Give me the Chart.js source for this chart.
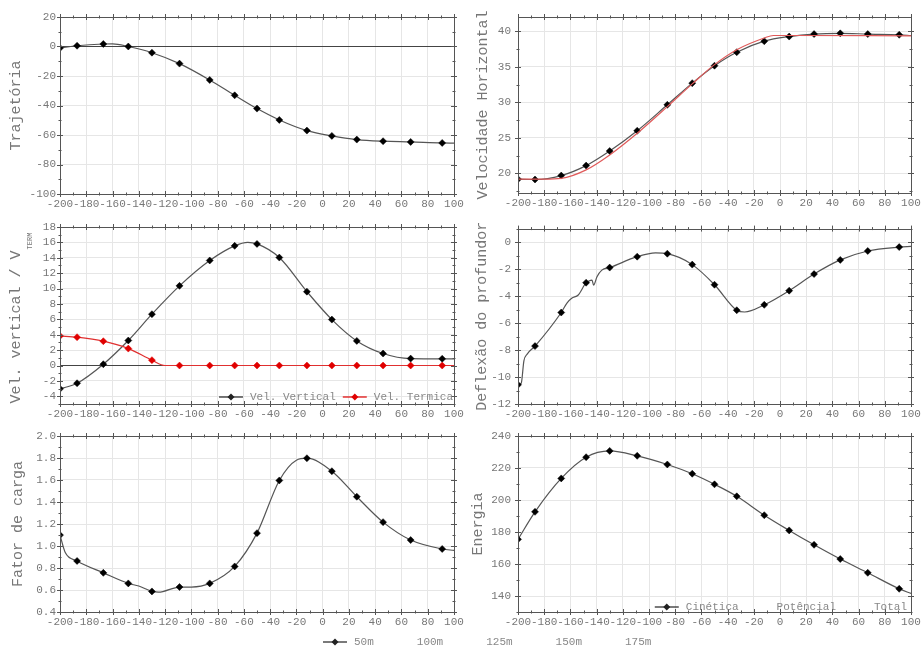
<!DOCTYPE html>
<html>
<head>
<meta charset="utf-8">
<script src="https://cdn.jsdelivr.net/npm/chart.js@4.4.1/dist/chart.umd.min.js"></script>
<style>
  html, body { margin: 0; padding: 0; background: #fff; }
  #wrap { position: relative; width: 921px; height: 648px; overflow: hidden; }
  .panel { position: absolute; }
</style>
</head>
<body>
<div id="wrap">
  <div class="panel" style="left:0;top:0;width:470px;height:215px"><canvas id="c1"></canvas></div>
  <div class="panel" style="left:462px;top:0;width:459px;height:215px"><canvas id="c2"></canvas></div>
  <div class="panel" style="left:0;top:215px;width:470px;height:205px"><canvas id="c3"></canvas></div>
  <div class="panel" style="left:462px;top:215px;width:459px;height:205px"><canvas id="c4"></canvas></div>
  <div class="panel" style="left:0;top:420px;width:921px;height:228px"><canvas id="c5"></canvas></div>
  <div class="panel" style="left:462px;top:420px;width:459px;height:228px"><canvas id="c6"></canvas></div>
</div>
<script>
// marker positions shared by every panel
const markX = [-200, -187, -167, -148, -130, -109, -86, -67, -50, -33, -12, 7, 26, 46, 67, 91];

// Trajetória
const trajY = [-1, 0.5, 1.7, 0, -4.2, -11.6, -22.7, -33.1, -42.1, -49.8, -57.0, -60.6, -63.1, -64.2, -64.7, -65.4];
const trajExX = [-160, 100];
const trajExY = [1.8, -65.5];

// Velocidade Horizontal
const velHY = [19.2, 19.15, 19.7, 21.1, 23.15, 26.0, 29.65, 32.7, 35.15, 37.05, 38.6, 39.25, 39.6, 39.7, 39.6, 39.5];
const velHExX = [100];
const velHExY = [39.4];
const velRedX = [-200, -180, -167, -148, -130, -109, -86, -67, -50, -33, -12, -5, 10, 100];
const velRedY = [19.2, 19.2, 19.3, 20.5, 22.6, 25.65, 29.4, 32.6, 35.3, 37.4, 39.05, 39.4, 39.4, 39.35];

// Vel. vertical / Vel. termica
const vertY = [-3.03, -2.3, 0.17, 3.25, 6.67, 10.35, 13.65, 15.55, 15.8, 14.03, 9.6, 5.97, 3.2, 1.56, 0.9, 0.87];
const vertExX = [-57, 100];
const vertExY = [16.0, 0.87];
const termY = [3.85, 3.68, 3.16, 2.2, 0.7, 0, 0, 0, 0, 0, 0, 0, 0, 0, 0, 0];
const termExX = [-120, 100];
const termExY = [0, 0];

// Deflexão do profundor
const deflY = [-10.58, -7.71, -5.22, -3.01, -1.89, -1.08, -0.86, -1.67, -3.16, -5.05, -4.65, -3.6, -2.37, -1.32, -0.66, -0.37];
const deflExX = [-197.5, -195.5, -193, -162.5, -159, -154, -146, -143.5, -142.3, -139.7, -136, -95, -27, 100];
const deflExY = [-10.45, -8.8, -8.3, -4.5, -4.16, -3.92, -2.89, -2.82, -3.19, -2.57, -2.08, -0.8, -5.18, -0.32];

// Fator de carga
const cargaY = [1.099, 0.864, 0.756, 0.66, 0.587, 0.627, 0.66, 0.814, 1.117, 1.596, 1.798, 1.68, 1.448, 1.217, 1.054, 0.973];
const cargaExX = [-196, -140, -125, -100, -20, 100];
const cargaExY = [0.94, 0.636, 0.58, 0.627, 1.78, 0.96];

// Energia
const energiaY = [175.4, 192.6, 213.5, 226.75, 230.7, 227.6, 222.2, 216.4, 209.8, 202.3, 190.5, 181.0, 172.0, 163.1, 154.5, 144.5];
const energiaExX = [100];
const energiaExY = [141.6];

const legendVel = ['Vel. Vertical', 'Vel. Termica'];
const legendEnergia = ['Cinética', 'Potêncial', 'Total'];
const legendAlturas = ['50m', '100m', '125m', '150m', '175m'];

const FONT = '"Liberation Mono", "DejaVu Sans Mono", monospace';
Chart.defaults.font.family = FONT;
Chart.defaults.color = '#777';

function series(xs, ys, exX, exY) {
  const pts = xs.map((x, i) => ({ x: x, y: ys[i] }));
  exX.forEach((x, i) => pts.push({ x: x, y: exY[i] }));
  return pts.sort((a, b) => a.x - b.x);
}

// ticks only on whole multiples of the step, even when min/max are not
function multiplesOf(step) {
  return function(scale) {
    const ticks = [];
    for (let k = Math.ceil(scale.min / step - 1e-9); k * step <= scale.max + 1e-9; k++) {
      ticks.push({ value: Math.round(k * step * 1e6) / 1e6 });
    }
    scale.ticks = ticks;
  };
}

function markRadius(ctx) {
  return ctx.raw && markX.includes(ctx.raw.x) ? 3.5 : 0;
}

function lineSet(data, color, markers) {
  return {
    data: data,
    borderColor: color,
    borderWidth: 1.2,
    cubicInterpolationMode: 'monotone',
    pointStyle: 'rectRot',
    pointRadius: markers ? markRadius : 0,
    pointBackgroundColor: markers === 'red' ? '#e00000' : '#000',
    pointBorderColor: markers === 'red' ? '#e00000' : '#000',
    pointBorderWidth: 0.5
  };
}

// box round the plot area with major and minor ticks on all four sides
const framePlugin = {
  id: 'frame',
  afterDatasetsDraw(chart) {
    const { ctx, chartArea: a } = chart;
    const x = chart.scales.x, y = chart.scales.y;
    const marks = (scale) => {
      const t = scale.ticks.map(k => k.value);
      const st = t[1] - t[0];
      const out = t.map(v => [v, 3]);
      for (let v = t[0] - st / 2; v <= scale.max + 1e-9; v += st) {
        if (v >= scale.min - 1e-9) out.push([v, 1.5]);
      }
      return out;
    };
    ctx.save();
    ctx.strokeStyle = '#555';
    ctx.lineWidth = 1;
    ctx.strokeRect(Math.round(a.left) + 0.5, Math.round(a.top) + 0.5,
      Math.round(a.right - a.left), Math.round(a.bottom - a.top));
    ctx.beginPath();
    marks(x).forEach(([v, l]) => {
      const px = Math.round(x.getPixelForValue(v)) + 0.5;
      ctx.moveTo(px, a.bottom - l); ctx.lineTo(px, a.bottom + l);
      ctx.moveTo(px, a.top - l); ctx.lineTo(px, a.top + l);
    });
    marks(y).forEach(([v, l]) => {
      const py = Math.round(y.getPixelForValue(v)) + 0.5;
      ctx.moveTo(a.left - l, py); ctx.lineTo(a.left + l, py);
      ctx.moveTo(a.right - l, py); ctx.lineTo(a.right + l, py);
    });
    ctx.stroke();
    ctx.restore();
  }
};

// legend drawn as line sample + diamond + label
const lineLegend = {
  id: 'lineLegend',
  afterDraw(chart, args, o) {
    if (!o.items) return;
    const ctx = chart.ctx, a = chart.chartArea;
    const sample = 24, gap = 7;
    ctx.save();
    ctx.font = '11px ' + FONT;
    const ws = o.items.map(it => ctx.measureText(it.label).width);
    const total = ws.reduce((s, w) => s + sample + gap + w, 0) + o.sep * (o.items.length - 1);
    let x = o.right != null ? a.right - o.right - total : o.x;
    const y = o.y != null ? o.y : a.bottom - o.bottom;
    o.items.forEach((it, i) => {
      if (it.color) {
        ctx.strokeStyle = it.color;
        ctx.lineWidth = 1.2;
        ctx.beginPath();
        ctx.moveTo(x, y); ctx.lineTo(x + sample, y);
        ctx.stroke();
        ctx.fillStyle = it.color;
        ctx.beginPath();
        const cx = x + sample / 2;
        ctx.moveTo(cx, y - 3.5); ctx.lineTo(cx + 3.5, y); ctx.lineTo(cx, y + 3.5); ctx.lineTo(cx - 3.5, y);
        ctx.closePath();
        ctx.fill();
      }
      ctx.fillStyle = '#888';
      ctx.textBaseline = 'middle';
      ctx.textAlign = 'left';
      ctx.fillText(it.label, x + sample + gap, y);
      x += sample + gap + ws[i] + o.sep;
    });
    ctx.restore();
  }
};

// y title with a subscript part
const subTitle = {
  id: 'subTitle',
  afterDraw(chart, args, o) {
    if (!o.main) return;
    const ctx = chart.ctx, a = chart.chartArea;
    ctx.save();
    ctx.fillStyle = '#777';
    ctx.font = '15px ' + FONT;
    const w1 = ctx.measureText(o.main).width;
    ctx.font = '7px ' + FONT;
    const w2 = ctx.measureText(o.sub).width;
    ctx.translate(o.x, (a.top + a.bottom) / 2 + 3);
    ctx.rotate(-Math.PI / 2);
    ctx.textBaseline = 'middle';
    ctx.textAlign = 'left';
    const s = -(w1 + w2) / 2;
    ctx.font = '15px ' + FONT;
    ctx.fillText(o.main, s, 0);
    ctx.font = '7px ' + FONT;
    ctx.fillText(o.sub, s + w1 + 1, 14);
    ctx.restore();
  }
};

Chart.register(framePlugin, lineLegend, subTitle);

function makeChart(id, c) {
  return new Chart(document.getElementById(id), {
    type: 'line',
    data: { datasets: c.datasets },
    options: {
      responsive: true,
      maintainAspectRatio: false,
      animation: false,
      devicePixelRatio: 1,
      layout: { padding: { top: c.padTop, right: c.padRight, left: 0, bottom: 0 } },
      plugins: {
        legend: { display: false },
        tooltip: { enabled: false },
        lineLegend: c.legend || {},
        subTitle: c.subTitle || {}
      },
      scales: {
        x: {
          type: 'linear',
          min: -200,
          max: 100,
          border: { display: false },
          grid: { color: '#e6e6e6', drawTicks: false },
          ticks: { stepSize: 20, autoSkip: false, maxRotation: 0, minRotation: 0, padding: 3, font: { size: 11 } },
          afterBuildTicks: multiplesOf(20),
          afterFit(s) { s.height = c.xHeight; s.paddingLeft = 0; s.paddingRight = 0; }
        },
        y: {
          type: 'linear',
          min: c.yMin,
          max: c.yMax,
          border: { display: false },
          grid: {
            drawTicks: false,
            color: ctx => (c.zero && ctx.tick && ctx.tick.value === 0) ? '#444' : '#e6e6e6'
          },
          ticks: {
            stepSize: c.yStep,
            padding: c.yPad,
            autoSkip: false,
            font: { size: 11 },
            callback: c.yFmt || (v => v)
          },
          afterBuildTicks: multiplesOf(c.yStep),
          title: {
            display: !!c.title,
            text: c.title,
            color: '#777',
            font: { size: 15 },
            padding: { top: c.titlePad, bottom: 0 }
          },
          afterFit(s) { s.width = c.yWidth; }
        }
      }
    }
  });
}

makeChart('c1', {
  datasets: [lineSet(series(markX, trajY, trajExX, trajExY), '#555', true)],
  yMin: -100, yMax: 20, yStep: 20, zero: true,
  title: 'Trajetória', titlePad: 7,
  padTop: 17, padRight: 16, yWidth: 60, yPad: 4, xHeight: 21
});

makeChart('c2', {
  datasets: [
    lineSet(series(velRedX, velRedY, [], []), '#e05a5a', false),
    lineSet(series(markX, velHY, velHExX, velHExY), '#555', true)
  ],
  yMin: 17.25, yMax: 42, yStep: 5,
  title: 'Velocidade Horizontal', titlePad: 12,
  padTop: 17, padRight: 10, yWidth: 56, yPad: 7, xHeight: 22
});

makeChart('c3', {
  datasets: [
    lineSet(series(markX, termY, termExX, termExY), '#e03030', 'red'),
    lineSet(series(markX, vertY, vertExX, vertExY), '#555', true)
  ],
  yMin: -5, yMax: 18, yStep: 2, zero: true,
  title: '', titlePad: 0,
  subTitle: { main: 'Vel. vertical / V', sub: 'TERM', x: 16 },
  legend: {
    items: [{ label: legendVel[0], color: '#222' }, { label: legendVel[1], color: '#e00000' }],
    right: 1, bottom: 7, sep: 7
  },
  padTop: 12, padRight: 16, yWidth: 60, yPad: 4, xHeight: 16
});

makeChart('c4', {
  datasets: [lineSet(series(markX, deflY, deflExX, deflExY), '#555', true)],
  yMin: -12, yMax: 1, yStep: 2,
  title: 'Deflexão do profundor', titlePad: 11,
  padTop: 12, padRight: 10, yWidth: 56, yPad: 7, xHeight: 16
});

makeChart('c5', {
  datasets: [lineSet(series(markX, cargaY, cargaExX, cargaExY), '#555', true)],
  yMin: 0.4, yMax: 2.0, yStep: 0.2, yFmt: v => v.toFixed(1),
  title: 'Fator de carga', titlePad: 9,
  legend: {
    items: legendAlturas.map((l, i) => ({ label: l, color: i === 0 ? '#222' : null })),
    x: 323, y: 222, sep: 12
  },
  padTop: 16, padRight: 467, yWidth: 60, yPad: 4, xHeight: 36
});

makeChart('c6', {
  datasets: [lineSet(series(markX, energiaY, energiaExX, energiaExY), '#555', true)],
  yMin: 130, yMax: 240, yStep: 20,
  title: 'Energia', titlePad: 7,
  legend: {
    items: legendEnergia.map((l, i) => ({ label: l, color: i === 0 ? '#222' : null })),
    right: 4, bottom: 5, sep: 7
  },
  padTop: 16, padRight: 10, yWidth: 56, yPad: 7, xHeight: 36
});
</script>
</body>
</html>
